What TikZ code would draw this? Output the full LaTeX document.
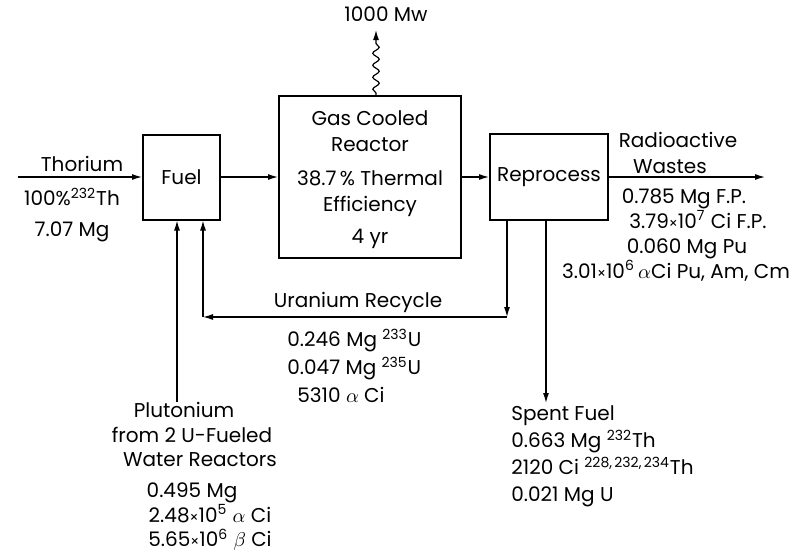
\documentclass[tikz,border=0pt]{standalone}
\usepackage{fontspec}
\setmainfont{Poppins}
\usepackage{amsmath}
\usetikzlibrary{arrows.meta, positioning, decorations.pathmorphing}

\begin{document}
\begin{tikzpicture}[
x=0.5pt, y=-0.5pt,
every node/.style={font=\fontsize{10}{13}\selectfont, inner sep=0pt},
box/.style={draw, line width=1pt, align=center},
flow/.style={-{Latex[length=5pt,width=3pt]}, line width=0.6pt},
wavy/.style={-{Latex[length=5pt,width=3pt]}, line width=0.6pt, decorate,
  decoration={snake, amplitude=1.6pt, segment length=6pt, pre length=1pt, post length=4pt}},
txt/.style={align=center}
]
\useasboundingbox (0,0) rectangle (793,553);

% boxes
\node[box, minimum width=38.5pt, minimum height=42.5pt] (fuel) at (181.5,177) {Fuel};
\node[box, minimum width=91pt, minimum height=81pt] (reactor) at (370,177) {};
\node[txt] (reactortext) at (370,179.5)
  {Gas Cooled\\Reactor\\[4pt]38.7\,\% Thermal\\Efficiency\\[3pt]4 yr};
\node[box, minimum width=59pt, minimum height=43pt] (reprocess) at (549,177) {Reprocess};

% free ends
\coordinate (thstart) at (18,177);
\coordinate (mw) at (376,30);
\coordinate (wasteend) at (765,177);
\coordinate (rc1) at (507,317);
\coordinate (rc2) at (203,317);
\coordinate (sp) at (546,403);

% labels
\node[txt, anchor=south] (thorium) at (82,172) {Thorium};
\node[txt, anchor=north] (thdata) at (72,188) {100\%\textsuperscript{232}Th\\[2.5pt]7.07 Mg};
\node[txt, anchor=south] (power) at (386,22) {1000 Mw};
\node[txt, anchor=south] (wastes) at (678,174) {Radioactive\\\hspace*{-8pt}Wastes};
\node[txt, anchor=north, font=\fontsize{10}{12.5}\selectfont] (wdata) at (684,188)
  {0.785 Mg F.P.\\\hspace*{14pt}3.79{\scriptsize×}10\textsuperscript{7} Ci F.P.\\\hspace*{3pt}0.060 Mg Pu\\\hspace*{-8pt}3.01{\scriptsize×}10\textsuperscript{6}\,$\alpha$Ci Pu, Am, Cm};
\node[txt, anchor=south] (urecycle) at (358,313) {Uranium Recycle};
\node[align=left, anchor=north west, font=\fontsize{10}{14}\selectfont] (udata) at (287,329)
  {0.246 Mg \textsuperscript{233}U\\0.047 Mg \textsuperscript{235}U\\\hspace*{5pt}5310 $\alpha$ Ci};
\node[txt, anchor=north, font=\fontsize{10}{12.3}\selectfont] (putext) at (192,402)
  {\hspace*{-8pt}Plutonium\\from 2 U-Fueled\\\hspace*{8pt}Water Reactors\\[3pt]0.495 Mg\\\hspace*{18pt}2.48{\scriptsize×}10\textsuperscript{5} $\alpha$ Ci\\\hspace*{18pt}5.65{\scriptsize×}10\textsuperscript{6} $\beta$ Ci};
\node[align=left, anchor=north west, font=\fontsize{10}{13.6}\selectfont] (spent) at (511,405)
  {Spent Fuel\\0.663 Mg \textsuperscript{232}Th\\2120 Ci \textsuperscript{228,\,232,\,234}Th\\0.021 Mg U};

% connectors
\draw[flow] (thstart) -- (fuel);
\draw[flow] (fuel) -- (reactor);
\draw[flow] (reactor) -- (reprocess);
\draw[flow] (reprocess) -- (wasteend);
\draw[wavy] (reactor.north -| mw) -- (mw);
\draw[flow] (reprocess.south -| rc1) -- (rc1);
\draw[flow] (rc1) -- (rc2);
\draw[flow] (rc2) -- (fuel.south -| rc2);
\draw[flow] (putext.north -| 177,0) -- (fuel.south -| 177,0);
\draw[flow] (reprocess.south -| sp) -- (sp);

\end{tikzpicture}
\end{document}
